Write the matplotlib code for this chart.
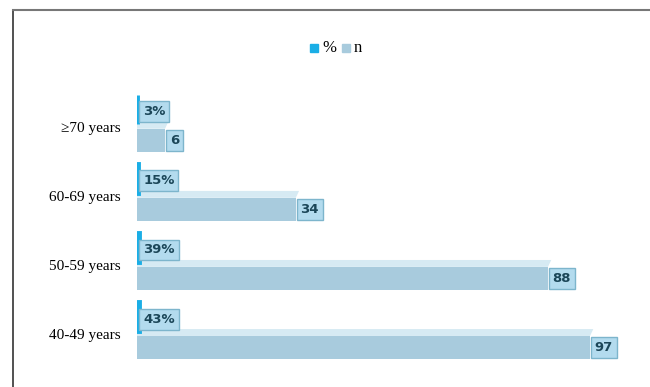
import numpy as np
import matplotlib.pyplot as plt
from matplotlib.patches import Polygon
from matplotlib.lines import Line2D

# data (bottom to top)
cats = ["40-49 years", "50-59 years", "60-69 years", "\u226570 years"]
n_vals = [97, 88, 34, 6]
pct_vals = [43, 39, 15, 3]

c_n = "#a8cbdd"
c_top = "#d6eaf3"
c_pct = "#1aaee6"
c_box = "#b3dbee"
c_edge = "#7db5cc"
c_txt = "#1b4658"

fig = plt.figure(figsize=(6.5, 3.87), dpi=100)
ax = fig.add_axes([137/650, 1-375/387, (640-137)/650, (375-60)/387])
ax.set_xlim(0, 107.7)
ax.set_ylim(-0.59, 3.97)

y = np.arange(len(cats))
off_n = -0.19
h_n = 0.33
ax.barh(y + off_n, n_vals, height=h_n, color=c_n, zorder=2)

# top face of the n bars
for yi, v in zip(y, n_vals):
    top = yi + off_n + h_n/2
    ax.add_patch(Polygon([(0, top), (v, top), (v + 0.7, top + 0.1), (0, top + 0.1)],
                         closed=True, color=c_top, zorder=1, lw=0))
    ax.text(v + 1.0, yi + off_n, str(v), ha="left", va="center", fontsize=9.5,
            fontweight="bold", color=c_txt, family="DejaVu Sans", zorder=4,
            bbox=dict(boxstyle="square,pad=0.3", fc=c_box, ec=c_edge, lw=1))

# % bars (fractions on the same axis)
ax.barh(y + 0.25, [p/100 for p in pct_vals], height=0.42, color=c_pct,
        edgecolor=c_pct, lw=3.5, zorder=3)
for yi, p in zip(y, pct_vals):
    ax.text(1.3, yi + 0.22, f"{p}%", ha="left", va="center", fontsize=9.5,
            fontweight="bold", color=c_txt, family="DejaVu Sans", zorder=4,
            bbox=dict(boxstyle="square,pad=0.3", fc=c_box, ec=c_edge, lw=1))

ax.set_yticks(y)
ax.set_yticklabels(cats, family="Liberation Serif", fontsize=11)
ax.tick_params(axis="y", length=0, pad=12)
ax.set_xticks([])
for s in ax.spines.values():
    s.set_visible(False)

# legend
fig.patches.append(plt.Rectangle((310/650, 1-52/387), 8/650, 8/387, color=c_pct,
                                 transform=fig.transFigure))
fig.text(322/650, 1-48/387, "%", family="Liberation Serif", fontsize=12, va="center")
fig.patches.append(plt.Rectangle((342/650, 1-52/387), 8/650, 8/387, color=c_n,
                                 transform=fig.transFigure))
fig.text(354/650, 1-48/387, "n", family="Liberation Serif", fontsize=12, va="center")

# frame lines
fig.add_artist(Line2D([13/650, 13/650], [0, 1-10/387], color="#333333", lw=1.2))
fig.add_artist(Line2D([13/650, 0.999], [1-10/387, 1-10/387], color="#777777", lw=1.5))

fig.savefig("out.png", dpi=100)
